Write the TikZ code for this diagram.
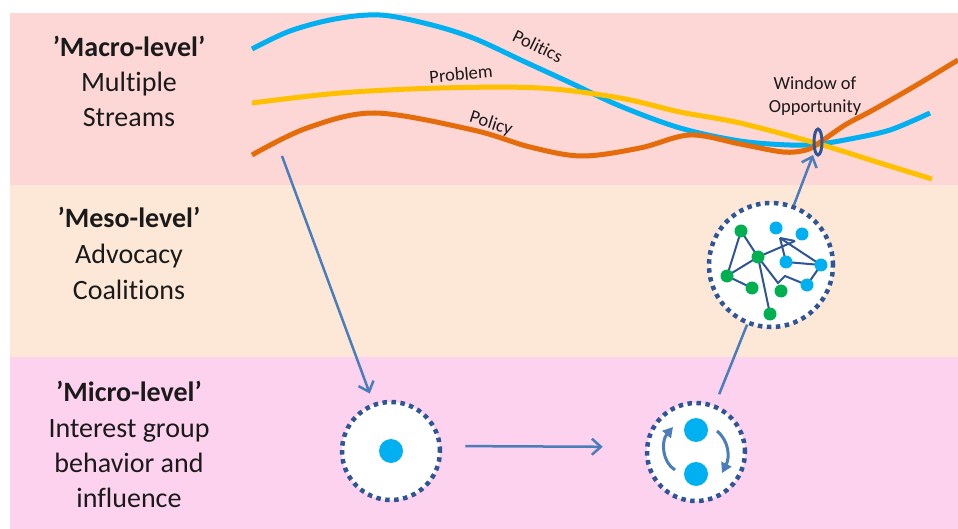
\documentclass[tikz,border=0pt]{standalone}
\usepackage{fontspec}
\setmainfont{Carlito}[Ligatures={NoCommon}]
\usetikzlibrary{arrows.meta,shapes.geometric}
\definecolor{bandA}{HTML}{FDD6D6}
\definecolor{bandB}{HTML}{FDE8D8}
\definecolor{bandC}{HTML}{FDD2EE}
\definecolor{polblue}{HTML}{00B0F0}
\definecolor{probyellow}{HTML}{FFC000}
\definecolor{polorange}{HTML}{E46C0A}
\definecolor{navy}{HTML}{2F5597}
\definecolor{arrowblue}{HTML}{4A7EBB}
\definecolor{dotgreen}{HTML}{00B050}
\definecolor{txt}{HTML}{1A1A1A}
\begin{document}
\begin{tikzpicture}[x=1pt,y=-1pt,
  lvltitle/.style={font=\fontsize{28}{34}\selectfont\bfseries, text=txt, anchor=base, inner sep=0pt},
  lvltext/.style={font=\fontsize{28}{34}\selectfont, text=txt, anchor=base, inner sep=0pt},
  streamlbl/.style={font=\fontsize{18.5}{22}\selectfont, text=txt, inner sep=0pt},
  stream/.style={line width=5pt, line cap=butt},
  dotcirc/.style={circle, fill=white, draw=navy, line width=4.5pt, dash pattern=on 4.5pt off 4.5pt, inner sep=0pt},
  conn/.style={draw=arrowblue, line width=2.5pt, -{Straight Barb[length=9pt,width=16pt]}},
  plain/.style={draw=arrowblue, line width=2.5pt},
  bluedot/.style={circle, fill=polblue, inner sep=0pt, minimum size=13pt},
  greendot/.style={circle, fill=dotgreen, inner sep=0pt, minimum size=13pt},
  edge/.style={draw=navy, line width=2pt},
  swirl/.style={draw=arrowblue, line width=3pt, -{Triangle[length=10pt,width=11pt]}}
]
\useasboundingbox (0,0) rectangle (958,529);
% bands
\fill[white] (0,0) rectangle (958,529);
\fill[bandA] (10,13) rectangle (958,185);
\fill[bandB] (10,185) rectangle (958,357);
\fill[bandC] (10,357) rectangle (958,529);

% level labels
\node[lvltitle] (macroT) at (129,57) {’Macro-level’};
\node[lvltext] (macro1) at (129,92) {Multiple};
\node[lvltext] (macro2) at (129,127) {Streams};
\node[lvltitle] (mesoT) at (129,228) {’Meso-level’};
\node[lvltext] (meso1) at (129,264) {Advocacy};
\node[lvltext] (meso2) at (129,299) {Coalitions};
\node[lvltitle] (microT) at (129,401) {’Micro-level’};
\node[lvltext] (micro1) at (129,437) {Interest group};
\node[lvltext] (micro2) at (129,472) {behavior and};
\node[lvltext] (micro3) at (129,507) {influence};

% streams
\draw[stream, polblue] plot[smooth, tension=0.55] coordinates {
  (252,49) (290,31) (335,19) (380,15) (428,24) (473,38) (523,61) (573,84) (620,106)
  (680,128) (740,141) (790,145) (819,144) (850,139) (890,130) (930,113)};
\draw[stream, probyellow] plot[smooth, tension=0.55] coordinates {
  (252,103) (340,93) (440,88) (540,88) (620,98) (680,112) (740,123) (819,144) (880,163) (932,179)};
\draw[stream, polorange] plot[smooth, tension=0.55] coordinates {
  (252,155) (307,128) (375,113) (473,130) (530,147) (582,156) (640,148) (690,135)
  (740,144) (783,152) (806,150) (819,143) (845,125) (873,110) (915,86) (958,60)};

\node[streamlbl, rotate=-26] (lpol) at (538,46) {Politics};
\node[streamlbl, rotate=5] (lprob) at (461,74) {Problem};
\node[streamlbl, rotate=-18] (lpolicy) at (491,124) {Policy};
\node[streamlbl, anchor=base] (lwin1) at (815,90) {Window of};
\node[streamlbl, anchor=base] (lwin2) at (815,113) {Opportunity};

\node[ellipse, draw=navy, line width=3pt, minimum width=8pt, minimum height=26pt, inner sep=0pt] (win) at (818,142) {};

% circles
\node[dotcirc, minimum size=98pt] (m1) at (391,451) {};
\node[dotcirc, minimum size=98pt] (m2) at (696,452) {};
\node[dotcirc, minimum size=124pt] (m3) at (771,265) {};

% connectors
\coordinate (dstart) at (282,156);
\draw[conn, shorten >=10pt] (dstart) -- (m1);
\draw[conn, shorten <=23pt, shorten >=42pt] ([yshift=5pt]m1.east) -- ([yshift=5pt]m2.west);
\draw[plain, shorten <=11pt] (m2) -- (m3);
\draw[conn, shorten >=3pt] (m3) -- (win);

% micro contents
\node[bluedot, minimum size=24pt] (d1) at (391,451) {};
\node[bluedot, minimum size=24pt] (d2a) at (696,430) {};
\node[bluedot, minimum size=24pt] (d2b) at (696,474) {};
\coordinate (sa1) at (675,470);
\coordinate (sa2) at (673,427);
\coordinate (sb1) at (717,431);
\coordinate (sb2) at (722,473);
\draw[swirl] (sa1) .. controls (662,462) and (661,441) .. (sa2);
\draw[swirl] (sb1) .. controls (729,441) and (730,457) .. (sb2);

% meso network
\coordinate (g1) at (741,231);
\coordinate (g2) at (758,257);
\coordinate (g3) at (727,276);
\coordinate (g4) at (752,288);
\coordinate (g5) at (781,291);
\coordinate (g6) at (770,314);
\coordinate (b1) at (776,228);
\coordinate (b2) at (802,234);
\coordinate (b3) at (786,262);
\coordinate (b4) at (821,265);
\coordinate (b5) at (807,285);
\coordinate (p) at (780,238);
\coordinate (q) at (795,241);
\coordinate (z1) at (778,283);
\coordinate (z2) at (785,276);
\draw[edge] (g1) -- (g2);
\draw[edge] (g1) -- (g3);
\draw[edge] (g2) -- (g3);
\draw[edge] (g3) -- (g4);
\draw[edge] (g2) -- (g6);
\draw[edge] (g2) -- (q);
\draw[edge] (p) -- (q);
\draw[edge] (p) -- (b3);
\draw[edge] (p) -- (b4);
\draw[edge] (b3) -- (b4);
\draw[edge] (b5) -- (b4);
\draw[edge] (g2) -- (z1) -- (z2) -- (b5);
\foreach \n in {g1,g2,g3,g4,g5,g6} \node[greendot] (n\n) at (\n) {};
\foreach \n in {b1,b2,b3,b4,b5} \node[bluedot] (n\n) at (\n) {};
\end{tikzpicture}
\end{document}
